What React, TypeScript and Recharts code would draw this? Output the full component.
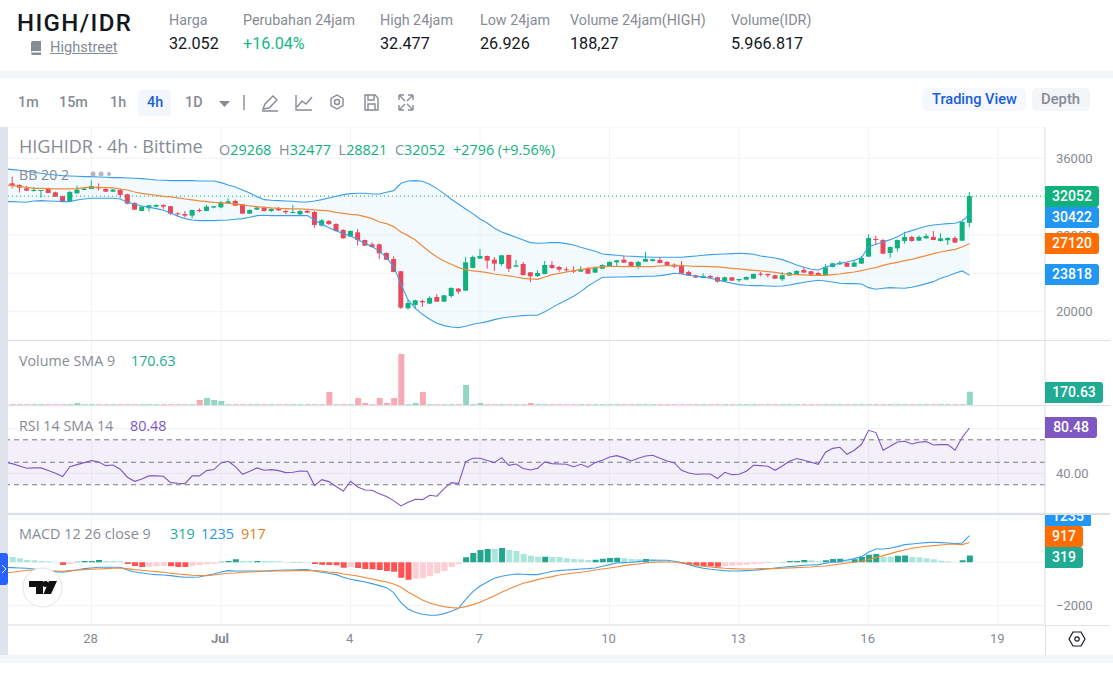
import { ComposedChart, Bar, Line, Area, XAxis, YAxis, CartesianGrid, ReferenceLine, ReferenceArea, Cell } from "recharts"

const opens = [
  33390, 33220, 32870, 32590, 32590, 32870, 32450, 32040, 31550, 32350,
  32700, 32800, 32980, 32800, 32520, 32700, 32250, 31340, 30510, 30790,
  30960, 31130, 31000, 30265, 30195, 30020, 30610, 30510, 30860, 30890,
  31310, 31550, 31200, 30230, 30650, 30860, 30510, 30790, 30510, 30330,
  30160, 30510, 30400, 28980, 29465, 29150, 28530, 27830, 28280, 27480,
  27030, 27030, 26130, 25500, 24220, 20360, 20710, 21120, 20850, 21540,
  21050, 21640, 22410, 22200, 24560, 25540, 25815, 25430, 24980, 25920,
  24700, 24980, 24110, 23730, 23940, 24880, 24670, 24425, 24290, 24180,
  24530, 24080, 24490, 24700, 25155, 25430, 25190, 24670, 25220, 25290,
  25400, 25190, 24910, 24880, 24150, 23800, 23520, 23730, 23590, 23210,
  23590, 23280, 23350, 23450, 23970, 23940, 23800, 23380, 23770, 23870,
  24355, 24220, 24040, 23800, 24670, 24950, 25085, 24700, 25020, 25750,
  27590, 27480, 26130, 26615, 27380, 27800, 27410, 27660, 27800, 27380,
  27450, 27690, 27410, 29268,
]
const highs = [
  34090, 33290, 33115, 33010, 32700, 32940, 32520, 32110, 32590, 33150,
  32940, 33710, 33390, 32870, 32800, 32870, 32315, 31410, 31000, 31130,
  31200, 31200, 31030, 30370, 30510, 30650, 30790, 31130, 31030, 31550,
  31830, 31690, 31240, 30680, 31000, 31000, 30790, 30925, 30650, 31130,
  30580, 30650, 30510, 29670, 29570, 29220, 28600, 28490, 28630, 27520,
  27240, 27100, 26200, 25780, 24250, 21260, 21260, 21260, 21610, 21820,
  21750, 22550, 22480, 25710, 25850, 26545, 25850, 25710, 25920, 25950,
  25400, 25190, 24150, 24320, 25290, 25290, 24770, 24670, 24740, 24740,
  24670, 24740, 24950, 25260, 25400, 25885, 25260, 25290, 26230, 25500,
  25710, 25290, 25050, 25290, 24290, 23870, 24010, 23830, 23660, 23660,
  23625, 23420, 23660, 23970, 24150, 23970, 23870, 24150, 24150, 24320,
  24700, 24250, 24180, 24950, 25085, 25290, 25155, 25400, 25815, 28075,
  27940, 27590, 26820, 27520, 28350, 27940, 27940, 28140, 28420, 28180,
  27760, 27870, 29400, 32477,
]
const lows = [
  32870, 32420, 32590, 32520, 31900, 32385, 31970, 31410, 31480, 32315,
  32660, 32800, 32660, 32490, 32490, 31830, 31200, 30610, 30470, 30440,
  30890, 30720, 30090, 29920, 29810, 29740, 30370, 30470, 30790, 30790,
  31270, 31030, 30195, 30195, 30610, 30440, 30400, 30510, 30195, 30300,
  30020, 30300, 28770, 28870, 29050, 28350, 27620, 27800, 26890, 26860,
  26680, 25500, 25400, 24110, 20290, 20220, 20290, 20500, 20810, 21020,
  21020, 21470, 21850, 22170, 24530, 25500, 24490, 24250, 24810, 24150,
  24670, 23770, 23070, 23630, 23900, 24460, 24180, 24110, 24040, 24150,
  23940, 24040, 24460, 24670, 24700, 25085, 24740, 24490, 25190, 25220,
  25050, 24840, 24560, 23940, 23730, 23520, 23490, 23490, 23030, 23140,
  23210, 23070, 23280, 23420, 23700, 23560, 23420, 23210, 23730, 23830,
  24040, 23770, 23770, 23770, 24630, 24880, 24670, 24670, 24980, 25710,
  26960, 25990, 25640, 26270, 27100, 27310, 27380, 27590, 27450, 27310,
  26960, 27170, 27380, 28821,
]
const closes = [
  33150, 32940, 32630, 32700, 32700, 32385, 32000, 31450, 32490, 32730,
  32840, 33115, 32870, 32520, 32730, 32180, 31270, 30650, 30960, 31100,
  31130, 30960, 30230, 30160, 30020, 30610, 30510, 30960, 31000, 31410,
  31520, 31060, 30230, 30610, 30860, 30510, 30720, 30580, 30370, 30400,
  30510, 30330, 29050, 29530, 29150, 28420, 27660, 28420, 27480, 26890,
  26750, 26090, 25430, 24150, 20430, 20910, 21190, 20980, 21440, 21050,
  21710, 22480, 22100, 25155, 25710, 25815, 25330, 25020, 25885, 24490,
  24840, 23830, 23700, 24040, 24880, 24560, 24390, 24355, 24220, 24460,
  23970, 24600, 24880, 25190, 25360, 25120, 24770, 25190, 25500, 25470,
  25085, 24880, 24700, 23970, 23770, 23560, 23730, 23560, 23140, 23590,
  23240, 23420, 23625, 23940, 23870, 23800, 23450, 23800, 24080, 24250,
  24080, 23870, 23800, 24630, 25050, 25120, 24700, 25120, 25610, 27690,
  27480, 26060, 26750, 27480, 27800, 27380, 27800, 27900, 27480, 27660,
  27690, 27210, 29360, 32052,
]

// the indicator lists start one bar earlier than the candles, that bar is off the left edge
const bbUpper = [
  34900, 34818, 34749, 34644, 34540, 34436, 34332, 34262, 34192, 34158, 34123,
  34088, 34088, 34053, 34019, 33984, 33984, 33949, 33914, 33880, 33810,
  33741, 33706, 33671, 33671, 33671, 33671, 33636, 33636, 33636, 33463,
  33219, 33011, 32698, 32385, 32003, 31690, 31620, 31585, 31551, 31516,
  31446, 31446, 31551, 31690, 31864, 32037, 32211, 32315, 32350, 32350,
  32281, 32281, 32454, 32628, 33393, 33636, 33671, 33602, 33289, 32837,
  32315, 31725, 31238, 30716, 30230, 29674, 29256, 28700, 28318, 28040,
  27762, 27484, 27206, 27136, 27171, 27206, 27206, 27101, 26962, 26719,
  26510, 26302, 26024, 25954, 25885, 25815, 25780, 25746, 25711, 25676,
  25676, 25676, 25676, 25676, 25746, 25815, 25885, 25954, 25989, 26024,
  26059, 26093, 26059, 25989, 25815, 25711, 25607, 25433, 25155, 24877,
  24634, 24425, 24355, 24668, 24877, 25051, 25190, 25363, 25642, 26789,
  27032, 27275, 27518, 27831, 28248, 28457, 28700, 28909, 29048, 29117,
  29187, 29222, 29465, 30160,
]
const bbMiddle = [
  33220, 33150, 33080, 32976, 32872, 32872, 32837, 32802, 32802, 32802, 32837,
  32941, 33011, 32976, 32941, 32906, 32802, 32698, 32489, 32350, 32246,
  32142, 32037, 31968, 31864, 31759, 31655, 31551, 31481, 31412, 31377,
  31307, 31238, 31134, 31029, 30960, 30890, 30821, 30786, 30751, 30716,
  30716, 30682, 30612, 30577, 30508, 30369, 30265, 30160, 30091, 29917,
  29708, 29361, 29187, 28874, 28318, 27936, 27484, 26858, 26232, 25711,
  25294, 24946, 24599, 24390, 24251, 24182, 24077, 23938, 23834, 23730,
  23625, 23486, 23417, 23382, 23625, 23869, 24008, 24147, 24286, 24390,
  24529, 24599, 24703, 24738, 24738, 24703, 24703, 24703, 24703, 24703,
  24772, 24807, 24842, 24807, 24772, 24738, 24738, 24703, 24668, 24599,
  24529, 24460, 24390, 24321, 24251, 24182, 24112, 23973, 23904, 23869,
  23834, 23800, 23800, 23800, 23869, 23938, 24043, 24147, 24286, 24460,
  24599, 24842, 25016, 25155, 25329, 25468, 25676, 25850, 26059, 26232,
  26371, 26510, 26754, 27120,
]
const bbLower = [
  31481, 31481, 31446, 31412, 31551, 31585, 31551, 31516, 31481, 31481, 31655,
  31759, 31829, 31829, 31829, 31829, 31759, 31412, 31203, 31029, 30890,
  30751, 30577, 30300, 29952, 29708, 29569, 29500, 29500, 29500, 29535,
  29569, 29639, 29708, 29847, 30021, 30056, 30021, 30021, 30021, 30021,
  30021, 30021, 29569, 29117, 28770, 28457, 28144, 27901, 27518, 27136,
  26789, 26337, 25642, 24703, 22861, 21227, 20358, 19732, 19211, 18794,
  18550, 18411, 18342, 18481, 18690, 18829, 18968, 19176, 19350, 19454,
  19524, 19593, 19628, 19628, 20010, 20427, 20845, 21227, 21609, 22096,
  22687, 23139, 23590, 23590, 23625, 23625, 23660, 23660, 23695, 23695,
  23765, 23869, 24008, 23938, 23800, 23695, 23625, 23486, 23313, 23139,
  22965, 22826, 22756, 22722, 22722, 22687, 22652, 22687, 22791, 22930,
  23069, 23174, 23278, 23208, 23104, 22965, 22930, 22930, 22896, 22513,
  22339, 22444, 22513, 22478, 22444, 22548, 22722, 22930, 23139, 23486,
  23730, 24008, 24251, 23818,
]

const volumes = [
  10, 10, 10, 10, 10, 10, 10, 10, 10, 26,
  10, 10, 10, 10, 10, 10, 10, 10, 10, 10,
  10, 10, 10, 10, 10, 10, 64, 90, 64, 51,
  10, 10, 10, 10, 10, 10, 10, 10, 10, 10,
  10, 10, 10, 10, 166, 10, 10, 10, 90, 26,
  10, 90, 26, 90, 653, 10, 26, 166, 10, 10,
  10, 10, 10, 256, 10, 26, 10, 10, 10, 10,
  10, 10, 26, 10, 10, 10, 10, 10, 10, 10,
  10, 10, 10, 10, 10, 10, 10, 10, 10, 10,
  10, 10, 10, 10, 10, 10, 10, 10, 10, 10,
  10, 10, 10, 10, 10, 10, 10, 10, 10, 10,
  10, 10, 10, 10, 10, 10, 10, 10, 10, 10,
  10, 10, 10, 10, 10, 10, 10, 10, 10, 10,
  10, 10, 10, 170.63,
]

const rsi = [
  50, 48.8, 46.7, 44.7, 45, 45, 42.6, 40.2, 37.3, 46.1, 47.9,
  49.7, 51.5, 50.3, 47, 47.6, 43.8, 36.7, 33.1, 35.2, 37.9,
  37.9, 37.6, 31.9, 31.3, 31, 37.9, 37.9, 42.6, 43.5, 49.4,
  50.9, 46.1, 39.3, 42, 45, 42.9, 43.5, 42.6, 40.8, 41.1,
  42.3, 42, 29.3, 34.6, 32.8, 28.4, 24.5, 33.1, 28.1, 25.4,
  25.1, 22.1, 19.5, 15.9, 11.2, 14.4, 17.1, 16.8, 20.7, 19.8,
  26.6, 31.9, 31, 50.6, 53.6, 53.6, 51.5, 49.7, 54.1, 47.3,
  48.5, 44.4, 43.2, 44.7, 50.3, 48.8, 48.5, 48.2, 46.1, 48.2,
  45.6, 49.7, 51.8, 54.7, 55.9, 53.9, 51.2, 53.6, 55.6, 56.2,
  53.6, 51.2, 49.4, 42.9, 40.5, 39.3, 39.6, 39.6, 35.5, 41.1,
  39, 39.3, 42, 47.3, 47, 46.4, 42.9, 46.7, 50.9, 53.3,
  51.8, 50, 48.2, 58.9, 62.4, 63.3, 57.1, 60.7, 66, 78.4,
  76.4, 60.7, 64.2, 68.1, 68.7, 66.3, 67.8, 68.4, 65.4, 65.7,
  65.7, 60.7, 72.2, 80.48,
]

const macdHist = [
  246, 185, 108, 100, 62, 46, 15, -123, -77, 31,
  62, 65, 108, 62, 60, 46, -77, -169, -215, -210,
  -185, -154, -185, -215, -220, -154, -123, -92, -62, 31,
  62, 138, 62, 60, 65, 62, 60, 46, 15, 16,
  18, 15, -77, -108, -123, -138, -246, -215, -261, -308,
  -323, -354, -400, -431, -707, -800, -754, -723, -631, -508,
  -400, -215, -77, 231, 431, 569, 615, 610, 661, 569,
  523, 385, 308, 261, 262, 250, 246, 185, 154, 138,
  108, 123, 169, 200, 205, 185, 154, 138, 154, 108,
  62, 46, 15, -46, -92, -123, -169, -185, -200, -169,
  -154, -138, -108, -77, -62, 15, 12, 15, 62, 65,
  108, 92, 46, 92, 154, 160, 92, 138, 246, 354,
  385, 261, 258, 308, 312, 246, 231, 185, 138, 77,
  46, 15, 92, 319,
]
const macdLine = [
  -240, -246, -261, -277, -308, -354, -400, -431, -461, -415, -354,
  -292, -261, -231, -231, -231, -231, -354, -446, -492, -538,
  -569, -584, -615, -661, -692, -692, -677, -600, -538, -446,
  -385, -400, -400, -400, -400, -400, -385, -369, -354, -354,
  -338, -338, -400, -461, -508, -569, -692, -784, -846, -907,
  -984, -1077, -1169, -1400, -1861, -2153, -2307, -2399, -2445, -2445,
  -2369, -2261, -2122, -1707, -1353, -1092, -907, -738, -646, -584,
  -538, -554, -569, -569, -492, -415, -385, -354, -338, -308,
  -292, -261, -185, -108, -31, -15, 0, 31, 77, 108,
  92, 92, 46, -15, -108, -200, -277, -323, -354, -385,
  -400, -400, -385, -369, -338, -308, -261, -231, -200, -169,
  -138, -123, -108, -46, 0, 31, 108, 169, 261, 477,
  615, 615, 646, 723, 815, 846, 877, 907, 923, 907,
  892, 861, 892, 1235,
]
const macdSignal = [
  -490, -461, -415, -369, -354, -369, -385, -400, -415, -385, -354,
  -338, -323, -308, -292, -277, -261, -292, -338, -369, -400,
  -431, -461, -508, -538, -569, -600, -615, -615, -584, -538,
  -508, -492, -461, -446, -431, -415, -400, -400, -400, -385,
  -385, -385, -385, -400, -446, -477, -538, -584, -631, -707,
  -769, -846, -907, -1000, -1153, -1369, -1553, -1738, -1876, -1969,
  -2046, -2092, -2107, -2046, -1953, -1846, -1692, -1538, -1384, -1230,
  -1092, -969, -892, -800, -723, -661, -584, -538, -492, -461,
  -415, -354, -308, -261, -215, -154, -108, -77, -31, 0,
  15, 15, 15, -31, -92, -138, -185, -215, -246, -277,
  -292, -308, -308, -308, -292, -292, -292, -277, -261, -246,
  -231, -215, -185, -169, -123, -77, -31, 0, 46, 123,
  215, 308, 400, 492, 569, 646, 692, 738, 769, 800,
  831, 831, 815, 917,
]

const timeTicks = [11, 29, 47, 65, 83, 101, 119, 137]
const timeLabels = ["28", "Jul", "4", "7", "10", "13", "16", "19"]
const priceTicks = [20000, 24000, 28000, 32000, 36000]
const rsiTicks = [40, 80]
const macdTicks = [-2000, 0, 2000]
// these axis labels sit behind a last value label in the reference
const hiddenLabels = [24000, 32000, 80, 0, 2000]

const headerStats = [
  { label: "Harga", value: "32.052", left: 169 },
  { label: "Perubahan 24jam", value: "+16.04%", left: 243, color: "#13b886" },
  { label: "High 24jam", value: "32.477", left: 380 },
  { label: "Low 24jam", value: "26.926", left: 480 },
  { label: "Volume 24jam(HIGH)", value: "188,27", left: 570 },
  { label: "Volume(IDR)", value: "5.966.817", left: 731 },
]
const intervals = [
  { label: "1m", left: 18 },
  { label: "15m", left: 59 },
  { label: "1h", left: 110 },
  { label: "4h", left: 147, color: "#1a5fd8" },
  { label: "1D", left: 185 },
]

// one bar off the left edge, 134 candles, ten empty slots on the right of the time scale
const table = Array.from({ length: 145 }, (_, k) => {
  const i = k - 1
  const hasCandle = i >= 0 && i < closes.length
  return {
    i,
    range: hasCandle ? [lows[i], highs[i]] : null,
    open: hasCandle ? opens[i] : null,
    close: hasCandle ? closes[i] : null,
    band: k < bbUpper.length ? [bbLower[k], bbUpper[k]] : null,
    upper: bbUpper[k] ?? null,
    middle: bbMiddle[k] ?? null,
    lower: bbLower[k] ?? null,
    volume: hasCandle ? volumes[i] : null,
    rsi: rsi[k] ?? null,
    hist: hasCandle ? macdHist[i] : null,
    macd: macdLine[k] ?? null,
    signal: macdSignal[k] ?? null,
  }
})

const GREEN = "#10b17d"
const RED = "#e9475a"
const BLUE = "#2196f3"
const ORANGE = "#ff6d00"
const TEAL = "#22ab94"
const PURPLE = "#7e57c2"
const GRAY = "#868b95"
const GRID = "#f2f3f5"
const BORDER = "#dfe2e7"
const FONT = "Roboto, sans-serif"
const LEGEND_FONT = "'Open Sans', sans-serif"

const histColor = (i: number) => {
  const h = macdHist[i]
  const prev = i > 0 ? macdHist[i - 1] : h
  if (h >= 0) return h > prev ? "#22a68f" : "#ace5dc"
  return h < prev ? "#ff5252" : "#ffcdd2"
}

function Candle(props: any) {
  const { x, y, width, height, payload } = props
  if (!payload || payload.open == null || !payload.range) return null
  const [low, high] = payload.range
  const toY = (v: number) => y + ((high - v) / (high - low)) * height
  const up = payload.close >= payload.open
  const top = toY(Math.max(payload.open, payload.close))
  const bottom = toY(Math.min(payload.open, payload.close))
  const color = up ? GREEN : RED
  return (
    <g>
      <line x1={x + width / 2} x2={x + width / 2} y1={y} y2={y + height} stroke={color} strokeWidth={1} />
      <rect x={x} y={top} width={width} height={Math.max(bottom - top, 1)} fill={color} />
    </g>
  )
}

function TimeTick(props: any) {
  const { x, y, payload } = props
  const label = timeLabels[timeTicks.indexOf(payload.value)]
  return (
    <text x={x - 1} y={y + 10} textAnchor="middle" fontSize={13} fontFamily={FONT} fill={GRAY} fontWeight={label === "Jul" ? 700 : 400}>
      {label}
    </text>
  )
}

const axisLabel = (text: string, v: number) => (hiddenLabels.includes(v) ? "" : text)

function Pill({ text, top, width, color, height = 21 }: any) {
  return (
    <div style={{ position: "absolute", left: 1045, top, width, height, lineHeight: height + "px", background: color, color: "#fff", fontSize: 14, fontWeight: 500, textAlign: "center", borderRadius: "0 3px 3px 0" }}>
      {text}
    </div>
  )
}

function Txt({ left, top, size = 14, color = GRAY, weight = 400, font, children }: any) {
  return (
    <div style={{ position: "absolute", left, top, fontSize: size, color, fontWeight: weight, lineHeight: 1, whiteSpace: "nowrap", fontFamily: font }}>
      {children}
    </div>
  )
}

const tickStyle = { fontSize: 13, fontFamily: FONT, fill: GRAY }
const chartMargin = { top: 0, right: 0, bottom: 0, left: 1.5 }
const gapStyle = { color: GRAY, marginLeft: 4 }

export default function App() {
  return (
    <div style={{ position: "absolute", left: 0, top: 0, width: 1113, height: 675, background: "#fff", overflow: "hidden", fontFamily: FONT }}>
      {/* page strips */}
      <div style={{ position: "absolute", left: 0, top: 71, width: 1113, height: 7, background: "#f4f5f6" }} />
      <div style={{ position: "absolute", left: 0, top: 655, width: 1113, height: 8, background: "#f4f5f6" }} />

      {/* header */}
      <Txt left={17} top={11} size={24} color="#14171c" weight={500}><span style={{ letterSpacing: 1.4 }}>HIGH/IDR</span></Txt>
      <svg style={{ position: "absolute", left: 30, top: 41 }} width={12} height={14}>
        <path d="M1 2 Q1 0 3 0 H11 V10 H3 Q1 10 1 12 Z M1 12 Q1 14 3 14 H11 V11.5 H3 Z" fill="#868b95" />
      </svg>
      <Txt left={50} top={40} size={14.6}><span style={{ textDecoration: "underline" }}>Highstreet</span></Txt>
      {headerStats.map((s) => (
        <div key={s.label}>
          <Txt left={s.left} top={13} size={14.3}>{s.label}</Txt>
          <Txt left={s.left} top={36} size={16.2} color={s.color ?? "#14171c"}>{s.value}</Txt>
        </div>
      ))}

      {/* toolbar */}
      <div style={{ position: "absolute", left: 138, top: 90, width: 33, height: 26, background: "#f3f6fa", borderRadius: 4 }} />
      {intervals.map((t) => (
        <Txt key={t.label} left={t.left} top={95} size={14.3} weight={500} color={t.color ?? GRAY}>{t.label}</Txt>
      ))}
      <svg style={{ position: "absolute", left: 218, top: 90 }} width={200} height={26} fill="none" stroke="#868b95" strokeWidth={1.4}>
        <path d="M1 11 H12 L6.5 17 Z" fill="#868b95" stroke="none" />
        <path d="M26 5 V20" />
        <path d="M45 19 L47 14 L55 6 L59 10 L51 18 Z M44 21 H60" />
        <path d="M78 5 V20 H94 M79 17 L84 11 L88 14 L94 7" />
        <path d="M119 5 L125 8.5 V15.5 L119 19 L113 15.5 V8.5 Z" />
        <circle cx={119} cy={12} r={2.5} />
        <path d="M147 5 H157 L160 8 V20 H147 Z M150 5 V10 H156 V5 M150 20 V14 H157 V20" />
        <path d="M181 5 H186 M181 5 V10 M195 5 H190 M195 5 V10 M181 20 H186 M181 20 V15 M195 20 H190 M195 20 V15 M182 6 L187 11 M194 6 L189 11 M182 19 L187 14 M194 19 L189 14" />
      </svg>
      <div style={{ position: "absolute", left: 922, top: 88, width: 104, height: 23, background: "#f5f8fd", borderRadius: 5 }} />
      <Txt left={932} top={92} size={14.6} weight={500} color="#1a5fd8">Trading View</Txt>
      <div style={{ position: "absolute", left: 1032, top: 88, width: 58, height: 23, background: "#f4f5f7", borderRadius: 5 }} />
      <Txt left={1041} top={92} size={14.8} weight={500}>Depth</Txt>

      {/* price pane */}
      <div style={{ position: "absolute", left: 0, top: 127 }}>
        <ComposedChart width={1110} height={213} data={table} margin={chartMargin}>
          <CartesianGrid stroke={GRID} />
          <XAxis dataKey="i" type="category" scale="band" hide ticks={timeTicks} />
          <YAxis yAxisId={0} orientation="right" width={65} domain={[17053, 39264]} ticks={priceTicks} allowDataOverflow tick={tickStyle} tickLine={false} tickMargin={5} tickFormatter={(v: number) => axisLabel(String(v), v)} axisLine={{ stroke: BORDER }} />
          <Area dataKey="band" stroke="none" fill="#e3f2fd" fillOpacity={0.42} isAnimationActive={false} connectNulls={false} dot={false} activeDot={false} />
          <ReferenceLine y={32052} stroke={GREEN} strokeDasharray="1 3" />
          <Line dataKey="upper" stroke="#3d9fe8" strokeWidth={1.1} dot={false} isAnimationActive={false} />
          <Line dataKey="lower" stroke="#3d9fe8" strokeWidth={1.1} dot={false} isAnimationActive={false} />
          <Line dataKey="middle" stroke="#f08a3c" strokeWidth={1.2} dot={false} isAnimationActive={false} />
          <Bar dataKey="range" barSize={5} shape={Candle} isAnimationActive={false} />
        </ComposedChart>
      </div>
      <Txt left={19} top={137} size={18} font={LEGEND_FONT}>HIGHIDR · 4h · Bittime</Txt>
      <Txt left={219} top={143} size={14.4} color={GREEN} font={LEGEND_FONT}>
        <span style={{ color: GRAY }}>O</span>29268<span style={gapStyle}> H</span>32477<span style={gapStyle}> L</span>28821<span style={gapStyle}> C</span>32052<span style={{ marginLeft: 4 }}> +2796 (+9.56%)</span>
      </Txt>
      <Txt left={19} top={168} size={14.2} font={LEGEND_FONT}>BB 20 2</Txt>
      <svg style={{ position: "absolute", left: 90, top: 170 }} width={24} height={8} fill="#b4b7bd">
        <circle cx={3} cy={4} r={2.5} />
        <circle cx={11} cy={4} r={2.5} />
        <circle cx={19} cy={4} r={2} />
      </svg>

      {/* volume pane */}
      <div style={{ position: "absolute", left: 0, top: 341 }}>
        <ComposedChart width={1110} height={64} data={table} margin={chartMargin}>
          <CartesianGrid stroke={GRID} horizontal={false} />
          <XAxis dataKey="i" type="category" scale="band" hide ticks={timeTicks} />
          <YAxis orientation="right" width={65} domain={[0, 820]} ticks={[]} allowDataOverflow tick={false} axisLine={{ stroke: BORDER }} />
          <Bar dataKey="volume" barSize={6} isAnimationActive={false}>
            {table.map((row) => (
              <Cell key={row.i} fill={(row.close ?? 0) >= (row.open ?? 0) ? "#93d6c3" : "#f9a9b4"} />
            ))}
          </Bar>
        </ComposedChart>
      </div>
      <Txt left={19} top={354} size={14.3} font={LEGEND_FONT}>Volume SMA 9</Txt>
      <Txt left={131} top={354} size={14.3} color={TEAL} font={LEGEND_FONT}>170.63</Txt>

      {/* rsi pane */}
      <div style={{ position: "absolute", left: 0, top: 406 }}>
        <ComposedChart width={1110} height={107} data={table} margin={chartMargin}>
          <CartesianGrid stroke={GRID} />
          <XAxis dataKey="i" type="category" scale="band" hide ticks={timeTicks} />
          <YAxis orientation="right" width={65} domain={[4.9, 100.04]} ticks={rsiTicks} allowDataOverflow tick={tickStyle} tickLine={false} tickMargin={5} tickFormatter={(v: number) => axisLabel(v.toFixed(2), v)} axisLine={{ stroke: BORDER }} />
          <ReferenceArea y1={30} y2={70} fill={PURPLE} fillOpacity={0.09} stroke="none" />
          <ReferenceLine y={70} stroke="#787b86" strokeDasharray="5 4" />
          <ReferenceLine y={50} stroke="#787b86" strokeDasharray="5 4" />
          <ReferenceLine y={30} stroke="#787b86" strokeDasharray="5 4" />
          <Line dataKey="rsi" stroke={PURPLE} strokeWidth={1.1} dot={false} isAnimationActive={false} />
        </ComposedChart>
      </div>
      <Txt left={19} top={419} size={14.3} font={LEGEND_FONT}>RSI 14 SMA 14</Txt>
      <Txt left={130} top={419} size={14.3} color={PURPLE} font={LEGEND_FONT}>80.48</Txt>

      {/* macd pane with the time scale under it */}
      <div style={{ position: "absolute", left: 0, top: 515 }}>
        <ComposedChart width={1110} height={140} data={table} margin={chartMargin}>
          <CartesianGrid stroke={GRID} />
          <XAxis dataKey="i" type="category" scale="band" ticks={timeTicks} interval={0} height={30} tick={TimeTick} tickLine={false} axisLine={{ stroke: BORDER }} />
          <YAxis orientation="right" width={65} domain={[-2893, 2183]} ticks={macdTicks} allowDataOverflow tick={tickStyle} tickLine={false} tickMargin={5} tickFormatter={(v: number) => axisLabel(String(v).replace("-", "−"), v)} axisLine={{ stroke: BORDER }} />
          <Bar dataKey="hist" barSize={6} isAnimationActive={false}>
            {table.map((row) => (
              <Cell key={row.i} fill={row.i >= 0 && row.i < macdHist.length ? histColor(row.i) : "none"} />
            ))}
          </Bar>
          <Line dataKey="macd" stroke="#3d9fe8" strokeWidth={1.1} dot={false} isAnimationActive={false} />
          <Line dataKey="signal" stroke="#f08a3c" strokeWidth={1.1} dot={false} isAnimationActive={false} />
        </ComposedChart>
      </div>
      <Txt left={19} top={527} size={14.4} font={LEGEND_FONT}>MACD 12 26 close 9</Txt>
      <Txt left={170} top={527} size={14.4} color={TEAL} font={LEGEND_FONT}>319</Txt>
      <Txt left={201} top={527} size={14.4} color={BLUE} font={LEGEND_FONT}>1235</Txt>
      <Txt left={241} top={527} size={14.4} color="#e8791f" font={LEGEND_FONT}>917</Txt>

      {/* left strip sits over the off-screen bar */}
      <div style={{ position: "absolute", left: 0, top: 127, width: 8, height: 528, background: "#e0e3eb" }} />

      {/* separators */}
      <div style={{ position: "absolute", left: 8, top: 340, width: 1102, height: 1, background: BORDER }} />
      <div style={{ position: "absolute", left: 8, top: 405, width: 1102, height: 1, background: BORDER }} />
      <div style={{ position: "absolute", left: 8, top: 513, width: 1102, height: 2, background: "#dcdfe4" }} />
      <div style={{ position: "absolute", left: 1045, top: 625, width: 65, height: 1, background: BORDER }} />

      {/* last value labels */}
      <Pill text="32052" top={186} width={54} color={GREEN} />
      <Pill text="30422" top={207} width={54} color={BLUE} />
      <Pill text="27120" top={233} width={54} color={ORANGE} />
      <Pill text="23818" top={264} width={54} color={BLUE} />
      <Pill text="170.63" top={382} width={58} color={TEAL} />
      <Pill text="80.48" top={417} width={52} color={PURPLE} />
      <div style={{ position: "absolute", left: 0, top: 515, width: 1113, height: 11, overflow: "hidden" }}>
        <Pill text="1235" top={-9} width={46} color={BLUE} />
      </div>
      <Pill text="917" top={526} width={38} color={ORANGE} />
      <Pill text="319" top={547} width={38} color={TEAL} />

      {/* widgets */}
      <div style={{ position: "absolute", left: 0, top: 553, width: 8, height: 32, background: "#2962ff", borderRadius: "0 3px 3px 0" }} />
      <svg style={{ position: "absolute", left: 0, top: 563 }} width={8} height={12} fill="none" stroke="#fff" strokeWidth={1}>
        <path d="M2 2 L6 6 L2 10" />
      </svg>
      <svg style={{ position: "absolute", left: 22, top: 567 }} width={41} height={41}>
        <circle cx={20.5} cy={20.5} r={19.5} fill="#fff" stroke="#e0e3eb" />
        <path d="M7 14 H21 V27 H14 V20 H7 Z" fill="#111" />
        <circle cx={23.5} cy={17} r={3} fill="#111" />
        <path d="M27 14 H35 L29 27 H21.5 Z" fill="#111" />
      </svg>
      <svg style={{ position: "absolute", left: 1068, top: 631 }} width={18} height={16} fill="none" stroke="#131722" strokeWidth={1.2}>
        <path d="M5 1 H13 L17 8 L13 15 H5 L1 8 Z" />
        <circle cx={9} cy={8} r={2.2} />
      </svg>
      <div style={{ position: "absolute", left: 1045, top: 625, width: 1, height: 30, background: BORDER }} />
    </div>
  )
}
